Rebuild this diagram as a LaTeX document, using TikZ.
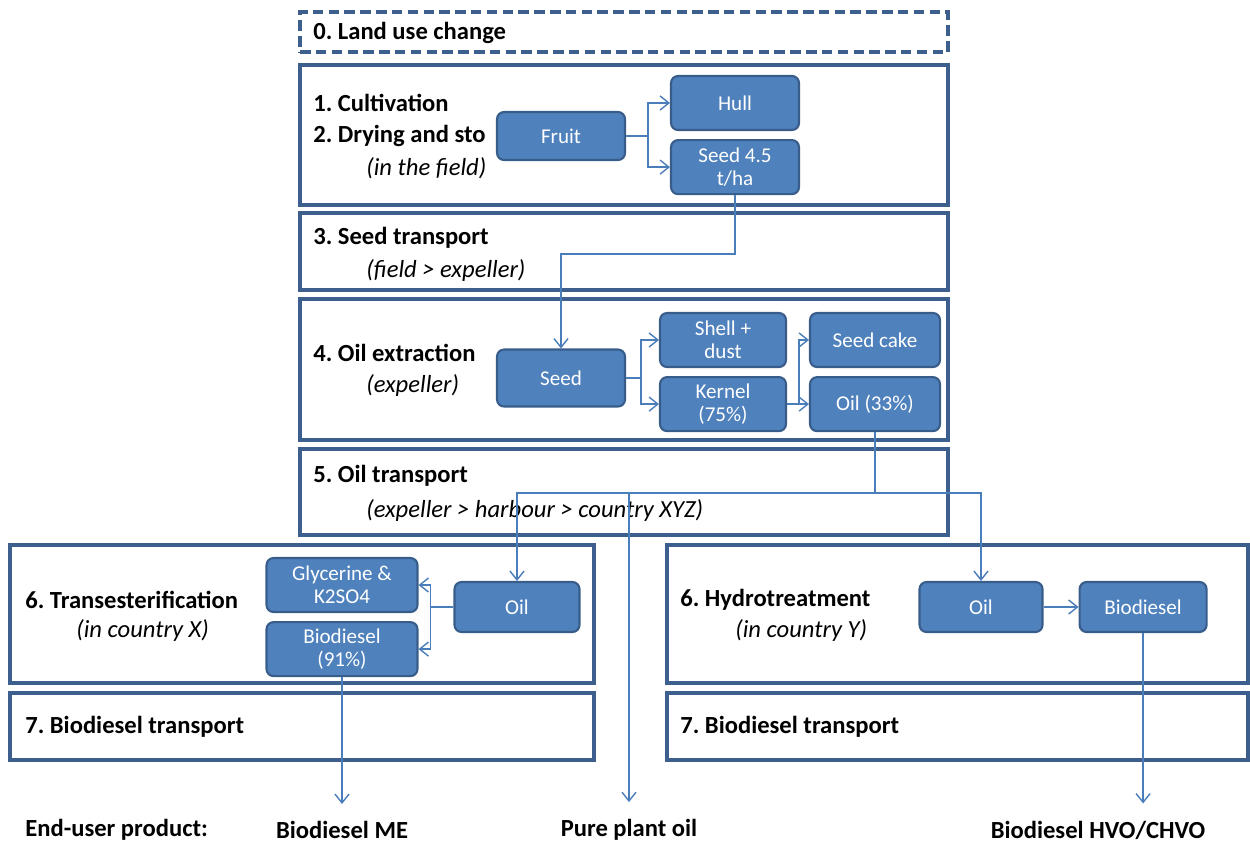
\documentclass[tikz,border=0pt]{standalone}
\usepackage{fontspec}
\setmainfont{Carlito}
\usetikzlibrary{arrows.meta,positioning}
\definecolor{stageblue}{HTML}{3C5F8E}
\definecolor{boxfill}{HTML}{4F81BD}
\definecolor{boxline}{HTML}{385D8A}
\definecolor{flowblue}{HTML}{4A7EBB}
\frenchspacing

\tikzset{
  stagebox/.style={rectangle, draw=stageblue, line width=1.8pt},
  stagetext/.style={anchor=west, inner sep=0pt, font=\bfseries\fontsize{14}{16}\selectfont},
  subtext/.style={anchor=west, inner sep=0pt, font=\itshape\fontsize{14}{16}\selectfont},
  procbox/.style={rectangle, rounded corners=4pt, draw=boxline, line width=1.2pt, fill=boxfill,
                  text=white, align=center, inner sep=1pt, font=\fontsize{12}{13}\selectfont},
  endtext/.style={inner sep=0pt, font=\bfseries\fontsize{14}{16}\selectfont},
  flow/.style={draw=flowblue, line width=0.8pt}
}

\begin{document}
\begin{tikzpicture}[x=0.02cm, y=-0.02cm, >={Straight Barb[length=5pt,width=8pt]}]
\useasboundingbox (0,0) rectangle (1250,846);

% Stage boxes
\node[stagebox, dash pattern=on 6pt off 3pt, minimum width=12.96cm, minimum height=0.8cm] (s0) at (624,32) {};
\node[stagebox, minimum width=12.96cm, minimum height=2.8cm] (s1) at (624,135) {};
\node[stagebox, minimum width=12.96cm, minimum height=1.54cm] (s3) at (624,251.5) {};
\node[stagebox, minimum width=12.96cm, minimum height=2.82cm] (s4) at (624,369.5) {};
\node[stagebox, minimum width=12.96cm, minimum height=1.72cm] (s5) at (624,492) {};
\node[stagebox, minimum width=11.68cm, minimum height=2.76cm] (s6x) at (302,614) {};
\node[stagebox, minimum width=11.68cm, minimum height=1.34cm] (s7x) at (302,726.5) {};
\node[stagebox, minimum width=11.62cm, minimum height=2.76cm] (s6y) at (957.5,614) {};
\node[stagebox, minimum width=11.62cm, minimum height=1.34cm] (s7y) at (957.5,726.5) {};

% Stage labels
\node[stagetext] (t0) at (313,33) {0. Land use change};
\node[stagetext] (t1) at (313,103) {1. Cultivation};
\node[stagetext] (t2) at (313,136) {2. Drying and sto};
\node[subtext] (t2b) at (366,168) {(in the field)};
\node[stagetext] (t3) at (313,238) {3. Seed transport};
\node[subtext] (t3b) at (366,270) {(field > expeller)};
\node[stagetext] (t4) at (313,353) {4. Oil extraction};
\node[subtext] (t4b) at (366,385) {(expeller)};
\node[stagetext] (t5) at (313,476) {5. Oil transport};
\node[subtext] (t5b) at (366,510) {(expeller > harbour > country XYZ)};
\node[stagetext] (t6x) at (25,600) {6. Transesterification};
\node[subtext] (t6xb) at (76,630) {(in country X)};
\node[stagetext] (t7x) at (25,727) {7. Biodiesel transport};
\node[stagetext] (t6y) at (680,600) {6. Hydrotreatment};
\node[subtext] (t6yb) at (735,630) {(in country Y)};
\node[stagetext] (t7y) at (680,727) {7. Biodiesel transport};

% Process boxes
\node[procbox, minimum width=2.56cm, minimum height=0.96cm] (fruit) at (561,136) {Fruit};
\node[procbox, minimum width=2.56cm, minimum height=1.08cm] (hull) at (735,103) {Hull};
\node[procbox, minimum width=2.56cm, minimum height=1.08cm, below=0.16cm of hull] (seedha) {Seed 4.5\\t/ha};

\node[procbox, minimum width=2.56cm, minimum height=1.14cm] (seed) at (561,378) {Seed};
\node[procbox, minimum width=2.52cm, minimum height=1.08cm] (shell) at (723,340) {Shell +\\dust};
\node[procbox, minimum width=2.52cm, minimum height=1.08cm, below=0.16cm of shell] (kernel) {Kernel\\(75\%)};
\node[procbox, minimum width=2.6cm, minimum height=1.08cm] (cake) at (875,340) {Seed cake};
\node[procbox, minimum width=2.6cm, minimum height=1.08cm, below=0.16cm of cake] (oilx) {Oil (33\%)};

\node[procbox, minimum width=3.02cm, minimum height=1.08cm] (glyc) at (342,585) {Glycerine \&\\K2SO4};
\node[procbox, minimum width=3.02cm, minimum height=1.08cm, below=0.16cm of glyc] (biome) {Biodiesel\\(91\%)};
\node[procbox, minimum width=2.5cm, minimum height=1.0cm] (oilt) at (517,607) {Oil};

\node[procbox, minimum width=2.46cm, minimum height=1.0cm] (oilh) at (981,607) {Oil};
\node[procbox, minimum width=2.54cm, minimum height=1.0cm, right=0.7cm of oilh] (biohvo) {Biodiesel};

% End-user products
\node[endtext, anchor=west] (eu) at (25,830) {End-user product:};
\node[endtext] (me) at (342,830) {Biodiesel ME};
\node[endtext] (ppo) at (629,830) {Pure plant oil};
\node[endtext] (hvo) at (1098,830) {Biodiesel HVO/CHVO};

% Connections
\draw[flow] (fruit.east) -- ++(22,0) coordinate (f1);
\draw[flow,->] (f1) |- (hull.west);
\draw[flow,->] (f1) |- (seedha.west);

\draw[flow,->] (seedha.south) -- ++(0,59) -| (seed.north);

\draw[flow] (seed.east) -- ++(15,0) coordinate (f2);
\draw[flow,->] (f2) |- (shell.west);
\draw[flow,->] (f2) |- (kernel.west);

\draw[flow] (kernel.east) -- ++(12,0) coordinate (f3);
\draw[flow,->] (f3) |- (cake.west);
\draw[flow,->] (f3) -- (oilx.west);

\draw[flow] (oilx.south) -- ++(0,61) coordinate (f4);
\draw[flow,->] (f4) -| (oilt.north);
\draw[flow,->] (f4) -| (oilh.north);
\draw[flow,->] (f4 -| ppo) -- ([yshift=0.34cm]ppo.north);

\draw[flow] (oilt.west) -- ++(-23,0) coordinate (f5);
\draw[flow,->] (f5) |- (glyc.east);
\draw[flow,->] (f5) |- (biome.east);
\draw[flow,->] (biome.south) -- ([yshift=0.34cm]biome.south |- me.north);

\draw[flow,->] (oilh) -- (biohvo);
\draw[flow,->] (biohvo.south) -- ([yshift=0.34cm]biohvo.south |- hvo.north);

\end{tikzpicture}
\end{document}
